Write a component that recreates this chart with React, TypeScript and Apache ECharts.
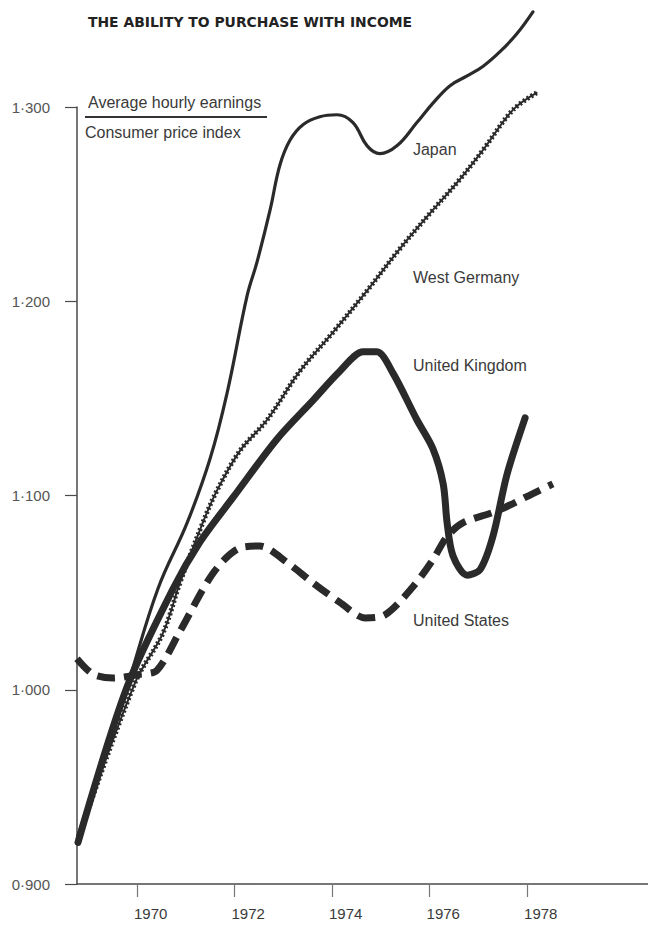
import React, { useEffect, useRef } from "react";
import * as echarts from "echarts";

const TITLE = "THE ABILITY TO PURCHASE WITH INCOME";
const LEGEND_TOP = "Average hourly earnings";
const LEGEND_BOTTOM = "Consumer price index";

const yTicks = [0.9, 1.0, 1.1, 1.2, 1.3];
const xTicks = [1970, 1972, 1974, 1976, 1978];

// [year, ratio of average hourly earnings to consumer price index]
const japan: [number, number][] = [
  [1968.79, 0.925], [1969.79, 1.001], [1970.43, 1.052], [1971.03, 1.086],
  [1971.5, 1.119], [1971.85, 1.153], [1972.26, 1.203], [1972.46, 1.22],
  [1972.73, 1.247], [1972.93, 1.27], [1973.14, 1.283], [1973.41, 1.291],
  [1973.75, 1.295], [1974.1, 1.296], [1974.43, 1.292], [1974.72, 1.28],
  [1974.98, 1.276], [1975.33, 1.28], [1975.74, 1.292], [1976.07, 1.302],
  [1976.42, 1.311], [1976.77, 1.316], [1977.1, 1.321], [1977.45, 1.3286],
  [1977.79, 1.3377], [1978.12, 1.349],
];

const westGermany: [number, number][] = [
  [1968.79, 0.923], [1969.96, 1.0036], [1970.53, 1.029], [1970.88, 1.055],
  [1971.35, 1.086], [1971.64, 1.1025], [1972.11, 1.123], [1972.67, 1.139],
  [1973.34, 1.164], [1974.02, 1.184], [1974.72, 1.2055], [1975.39, 1.227],
  [1976.07, 1.247], [1976.63, 1.263], [1977.1, 1.278], [1977.71, 1.2985],
  [1978.21, 1.3075],
];

const unitedKingdom: [number, number][] = [
  [1968.79, 0.9214], [1969.79, 1.001], [1970.74, 1.052], [1971.29, 1.076],
  [1971.97, 1.099], [1972.87, 1.129], [1973.61, 1.149], [1974.16, 1.164],
  [1974.64, 1.174], [1974.92, 1.174], [1975.25, 1.163], [1975.74, 1.139],
  [1976.07, 1.124], [1976.28, 1.106], [1976.36, 1.086], [1976.48, 1.069],
  [1976.77, 1.059], [1977.04, 1.062], [1977.3, 1.079], [1977.59, 1.111],
  [1977.96, 1.14],
];

const unitedStates: [number, number][] = [
  [1968.77, 1.016], [1969.1, 1.008], [1969.51, 1.006], [1970.06, 1.008],
  [1970.41, 1.01], [1970.88, 1.03], [1971.56, 1.06], [1972.11, 1.073],
  [1972.52, 1.074], [1973.08, 1.0655], [1973.61, 1.055], [1974.16, 1.045],
  [1974.68, 1.037], [1975.09, 1.0386], [1975.66, 1.053], [1976.07, 1.067],
  [1976.36, 1.079], [1976.69, 1.086], [1977.38, 1.092], [1978.12, 1.101],
  [1978.53, 1.106],
];

const FONT = "'Liberation Sans', Arial, Helvetica, sans-serif";
const INK = "#2a2a2a";
const TEXT = "#3a3a3a";

function labelPoint(name: string, coord: [number, number]) {
  return {
    symbol: "circle",
    symbolSize: 0,
    silent: true,
    label: {
      show: true,
      position: "right",
      distance: 0,
      formatter: name,
      color: TEXT,
      fontSize: 16,
      fontFamily: FONT,
    },
    data: [{ coord }],
  };
}

export default function App() {
  const ref = useRef<HTMLDivElement | null>(null);

  useEffect(() => {
    if (!ref.current) return;
    const chart = echarts.init(ref.current, null, { renderer: "svg" });
    const axisColor = "#4a4a4a";
    const labelX = 1975.66;

    chart.setOption({
      animation: false,
      backgroundColor: "#ffffff",
      grid: { left: 77, right: 0, top: 107, bottom: 41, containLabel: false },
      xAxis: {
        type: "value",
        min: 1968.77,
        max: 1980.48,
        splitLine: { show: false },
        axisLine: { show: true, lineStyle: { color: axisColor, width: 1.5 } },
        axisTick: {
          show: true,
          customValues: xTicks,
          length: 13,
          lineStyle: { color: "#777", width: 1.2 },
        },
        axisLabel: {
          customValues: xTicks,
          formatter: (v: number) => String(Math.round(v)),
          align: "left",
          margin: 22,
          padding: [0, 0, 0, -3],
          color: TEXT,
          fontSize: 15,
          fontFamily: FONT,
        },
      },
      yAxis: {
        type: "value",
        min: 0.9,
        max: 1.3,
        interval: 0.1,
        splitLine: { show: false },
        axisLine: { show: true, lineStyle: { color: axisColor, width: 1.5 } },
        axisTick: {
          show: true,
          customValues: yTicks,
          length: 12,
          lineStyle: { color: axisColor, width: 1.2 },
        },
        axisLabel: {
          customValues: yTicks,
          formatter: (v: number) => v.toFixed(3).replace(".", "·"),
          margin: 27,
          color: "#555",
          fontSize: 15,
          fontFamily: FONT,
        },
      },
      graphic: [
        {
          type: "text",
          left: 88,
          top: 15,
          style: {
            text: TITLE,
            fontSize: 13.9,
            fontWeight: "bold",
            fontFamily: "'DejaVu Sans', Verdana, sans-serif",
            fill: "#222",
          },
        },
        {
          type: "text",
          x: 88,
          y: 102,
          style: {
            text: LEGEND_TOP,
            fontSize: 16,
            fontFamily: FONT,
            fill: TEXT,
            verticalAlign: "middle",
          },
        },
        {
          type: "line",
          shape: { x1: 85, y1: 117, x2: 267, y2: 117 },
          style: { stroke: "#333", lineWidth: 2 },
        },
        {
          type: "text",
          x: 85,
          y: 132,
          style: {
            text: LEGEND_BOTTOM,
            fontSize: 16,
            fontFamily: FONT,
            fill: TEXT,
            verticalAlign: "middle",
          },
        },
      ],
      series: [
        {
          name: "West Germany",
          type: "line",
          data: westGermany,
          symbol: "none",
          smooth: 0.35,
          clip: false,
          z: 2,
          lineStyle: { color: INK, width: 2 },
          markPoint: labelPoint("West Germany", [labelX, 1.212]),
        },
        {
          name: "West Germany texture",
          type: "line",
          data: westGermany,
          symbol: "none",
          smooth: 0.35,
          clip: false,
          silent: true,
          z: 2,
          lineStyle: { color: INK, width: 5, type: [2, 2.5], cap: "butt" },
        },
        {
          name: "Japan",
          type: "line",
          data: japan,
          symbol: "none",
          smooth: 0.4,
          clip: false,
          z: 3,
          lineStyle: { color: INK, width: 3.2, cap: "round", join: "round" },
          markPoint: labelPoint("Japan", [labelX, 1.278]),
        },
        {
          name: "United Kingdom",
          type: "line",
          data: unitedKingdom,
          symbol: "none",
          smooth: 0.3,
          clip: false,
          z: 4,
          lineStyle: { color: INK, width: 7, cap: "round", join: "round" },
          markPoint: labelPoint("United Kingdom", [labelX, 1.167]),
        },
        {
          name: "United States",
          type: "line",
          data: unitedStates,
          symbol: "none",
          smooth: 0.3,
          clip: false,
          z: 5,
          lineStyle: { color: INK, width: 7, type: [18, 9], cap: "butt" },
          markPoint: labelPoint("United States", [labelX, 1.0355]),
        },
      ],
    });

    return () => chart.dispose();
  }, []);

  return (
    <div
      ref={ref}
      style={{ position: "absolute", left: 0, top: 0, width: 648, height: 925, background: "#fff" }}
    />
  );
}
